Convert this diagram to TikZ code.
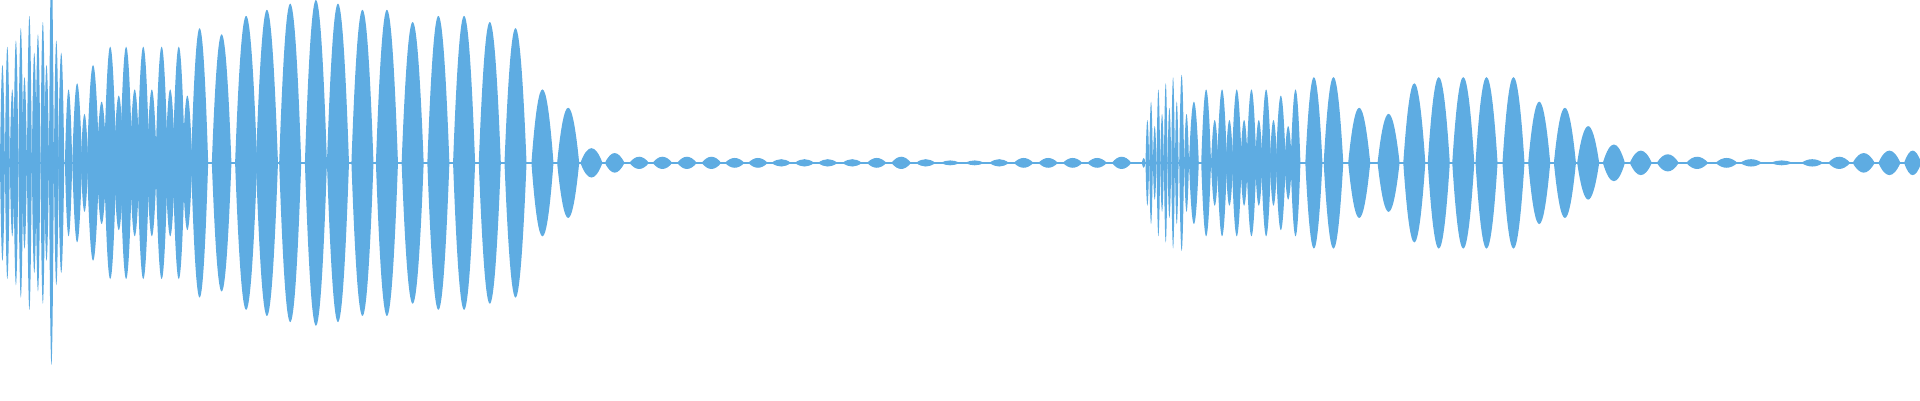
\documentclass[tikz,border=0pt]{standalone}
\definecolor{wave}{RGB}{94,172,226}
\begin{document}
\begin{tikzpicture}[x=0.012245cm,y=-0.012245cm]
\useasboundingbox (0,0) rectangle (1568,326.7);
\def\c{133}
\tikzset{lobe/.style={fill=wave,draw=none}}
\foreach \x/\w/\a in {
2/2/80,6/2/95,10/2/60,13/2/100,17/2/110,20/2/70,24/2/120,28/2/90,31/2/105,35/2/115,38/2/80,42/2/165,46/2/100,50/2.5/90,
56/3/60,63/4/65,69/3/40,76/5/80,83/4/50,90/5/95,97/4/55,103/5/95,110/4/60,117/5/95,124/4/60,132/5/95,139/4/60,146/5/95,153/4/55,
163/7/110,181/8/105,201/9/120,218/9/125,237/9/130,258/9/133,276/9/130,296/9/125,316/9/125,337/9/115,358/9/120,379/9/120,400/9/115,421/9/110,
443/9/60,464/9/45,483/9/12,502/8/8,522/8/5,541/8/5,561/8/5,581/8/5,600/8/4,619/8/4,638/8/3,657/8/3,676/8/3,696/8/3,716/8/4,736/8/5,756/8/3,776/8/2,796/8/2,816/8/3,836/8/4,856/8/4,876/8/4,896/8/4,916/8/5,
934/1.5/4,937/1.5/35,940/1.5/50,943/1.5/30,946/1.5/60,949/1.5/40,952/1.5/65,955/1.5/45,958/1.5/70,961/1.5/50,965/2/72,969/2/40,
975/4/50,985/4/60,992/3/35,998/4/60,1004/3/35,1010/4/60,1016/3/35,1022/4/60,1028/3/35,1034/4/60,1040/3/35,1046/4/55,1052/3/30,1058/4/60,
1073/7/70,1089/8/70,1110/9/45,1134/9/40,1155/9/65,1175/9/70,1195/9/70,1214/9/70,1236/9/70,1257/9/50,1278/9/45,1297/9/30,1318/9/15,1340/9/10,1362/9/7,1386/9/5,1410/9/4,1430/9/3,1455/9/2,1480/9/3,1502/9/5,1522/9/8,1543/9/10,1562/7/10}
{
 \fill[lobe] (\x-\w,\c) .. controls (\x-\w/3,\c-4*\a/3) and (\x+\w/3,\c-4*\a/3) .. (\x+\w,\c)
   .. controls (\x+\w/3,\c+4*\a/3) and (\x-\w/3,\c+4*\a/3) .. cycle;
}
\fill[wave] (0,\c-0.7) rectangle (1568,\c+0.7);
\end{tikzpicture}
\end{document}
